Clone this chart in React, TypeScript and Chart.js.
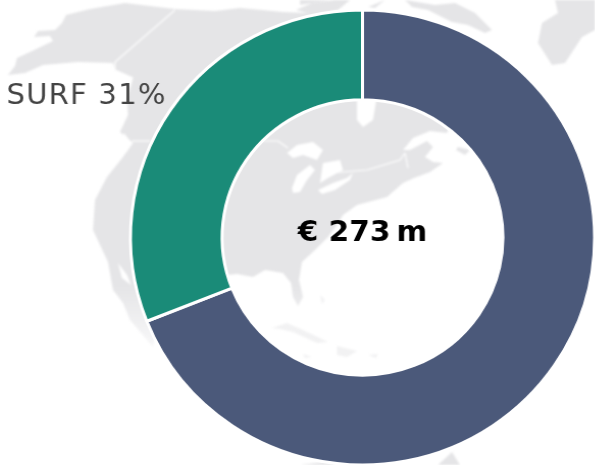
import React, { useEffect, useRef } from "react";
import { Chart, registerables } from "chart.js";

Chart.register(...registerables);

const categories = ["Other", "SURF"];
const shares = [69, 31];
const sliceColors = ["#4B597A", "#1A8B78"];
const labelledCategory = "SURF";
const centreText = "€ 273\u2009m";

const LAND = "#E5E5E7";
const continent =
  "M8,75 L15,66 17,58 30,52 53,41 50,36 34,37 38,31 55,30 62,23 66,15 90,9 125,3 175,9 215,11 240,8 262,10 283,12 330,14 380,40 420,70 450,125 " +
  "L447,133 430,131 413,138 403,150 410,150 427,141 433,147 425,157 433,162 443,163 430,172 414,178 403,183 387,197 357,205 343,215 337,225 328,237 315,250 302,262 " +
  "L299,280 303,297 298,306 293,297 291,283 283,273 265,270 253,277 237,274 228,275 190,285 160,320 153,347 130,320 123,303 113,290 108,262 93,230 " +
  "L95,200 107,177 123,157 133,143 120,132 128,115 127,100 133,78 115,70 113,63 78,62 43,65 25,73 Z";
const lakes = [
  "M357,96 L377,96 373,120 363,127 357,120 Z",
  "M287,153 L297,145 313,142 323,150 317,160 303,155 293,158 Z",
  "M292,188 L297,175 310,165 315,170 307,180 300,192 293,193 Z",
  "M323,163 L340,160 343,170 328,178 320,183 Z",
  "M318,190 L333,183 347,178 353,173 350,180 335,190 322,194 Z",
  "M124,133 L130,141 127,152 122,145 Z",
  "M118,263 L127,275 131,285 122,278 Z",
];
const borders = [
  "M175,10 L115,62 115,70 133,78",
  "M132,141 L150,141",
  "M263,141 L278,141 288,148",
  "M330,173 L367,170 400,160 405,153",
  "M405,153 L408,168",
];
const fadedLand = [
  "M272,328 L287,323 303,330 328,342 317,343 293,332 280,329 Z",
  "M337,346 L357,351 347,357 337,355 Z",
  "M303,354 L312,357 305,358 Z",
  "M368,355 L378,354 376,358 Z",
  "M320,295 L325,300 322,304 Z",
];
const otherLand = [
  "M405,0 L435,5 455,3 475,13 492,30 485,33 468,25 452,22 428,10 412,7 Z",
  "M555,0 L595,0 595,30 582,37 565,63 552,65 538,43 542,23 558,13 Z",
  "M335,0 L350,0 338,10 315,15 296,10 312,3 Z",
  "M368,7 L385,0 375,8 Z",
  "M458,147 L470,150 465,155 456,150 Z",
  "M300,465 L330,461 345,465 Z",
  "M438,465 L452,452 460,465 Z",
  "M300,0 L330,0 300,5 Z",
];

const textPlugin = {
  id: "donutText",
  afterDraw(chart: any) {
    const { ctx } = chart;
    const arc = chart.getDatasetMeta(0).data[0];
    ctx.save();
    ctx.textBaseline = "alphabetic";
    ctx.textAlign = "center";
    ctx.fillStyle = "#000000";
    ctx.font = "bold 29px 'DejaVu Sans'";
    ctx.fillText(centreText, arc.x, arc.y + 3);
    const i = categories.indexOf(labelledCategory);
    ctx.fillStyle = "#444444";
    ctx.font = "28.5px 'DejaVu Sans'";
    ctx.letterSpacing = "1.2px";
    ctx.textAlign = "left";
    ctx.fillText(`${labelledCategory} ${shares[i]}%`, 13.4, 103.5);
    ctx.restore();
  },
};

export default function App() {
  const ref = useRef<HTMLCanvasElement>(null);
  useEffect(() => {
    const chart = new Chart(ref.current!, {
      type: "doughnut",
      data: {
        labels: categories,
        datasets: [
          {
            data: shares,
            backgroundColor: sliceColors,
            borderColor: "#FFFFFF",
            borderWidth: 3,
            hoverOffset: 0,
          },
        ],
      },
      options: {
        responsive: false,
        animation: false,
        cutout: "60.5%",
        layout: { padding: { left: 133.5, top: 8.5, right: 3.5, bottom: 0.5 } },
        plugins: { legend: { display: false }, tooltip: { enabled: false }, title: { display: false } },
      },
      plugins: [textPlugin],
    });
    return () => chart.destroy();
  }, []);

  return (
    <div style={{ position: "absolute", left: 0, top: 0, width: 595, height: 465, overflow: "hidden", background: "#FFFFFF" }}>
      <svg width={595} height={465} style={{ position: "absolute", left: 0, top: 0, filter: "blur(0.8px)" }}>
        <defs>
          <linearGradient id="landFade" gradientUnits="userSpaceOnUse" x1="0" y1="285" x2="0" y2="345">
            <stop offset="0" stopColor={LAND} />
            <stop offset="1" stopColor="#F7F7F8" />
          </linearGradient>
        </defs>
        <path d={continent} fill="url(#landFade)" />
        {otherLand.map((d, i) => (
          <path key={i} d={d} fill={LAND} />
        ))}
        {lakes.map((d, i) => (
          <path key={i} d={d} fill="#FFFFFF" />
        ))}
        {borders.map((d, i) => (
          <path key={i} d={d} fill="none" stroke="#FFFFFF" strokeWidth={1.2} />
        ))}
        {fadedLand.map((d, i) => (
          <path key={i} d={d} fill="#F2F2F3" />
        ))}
      </svg>
      <canvas
        ref={ref}
        width={595}
        height={467}
        style={{ position: "absolute", left: 0, top: 0, width: 595, height: 467, transformOrigin: "362.5px 237.5px", transform: "scaleX(1.02)" }}
      />
    </div>
  );
}
